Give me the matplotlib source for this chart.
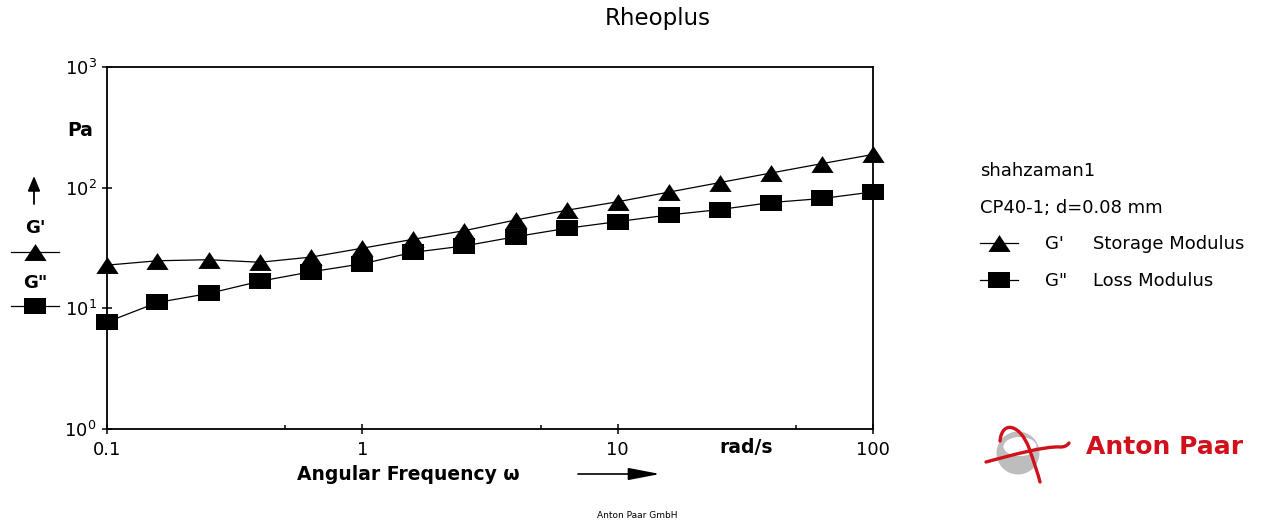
import matplotlib
matplotlib.use('Agg')
import matplotlib.pyplot as plt
from matplotlib.lines import Line2D
from matplotlib.patches import Ellipse, PathPatch
from matplotlib.path import Path
from matplotlib.ticker import FixedLocator, NullFormatter, NullLocator

# ---------------- data ----------------
omega = [0.1, 0.158, 0.251, 0.398, 0.631, 1.0, 1.58, 2.51, 3.98, 6.31,
         10.0, 15.8, 25.1, 39.8, 63.1, 100.0]
g_storage = [22.8, 24.8, 25.3, 24.1, 26.6, 31.5, 37.3, 44.0, 53.9, 64.9,
             76.3, 91.6, 110.0, 132.0, 158.0, 188.0]
g_loss = [7.7, 11.2, 13.3, 16.8, 20.1, 23.4, 29.1, 32.9, 39.2, 46.0,
          52.3, 59.3, 65.8, 75.2, 81.2, 92.1]

x_ticks = [0.1, 1, 10, 100]
x_tick_labels = ['0.1', '1', '10', '100']
x_minor_ticks = [0.5, 5, 50]
y_ticks = [1, 10, 100, 1000]
y_tick_labels = [r'$\mathregular{10^{0}}$', r'$\mathregular{10^{1}}$',
                 r'$\mathregular{10^{2}}$', r'$\mathregular{10^{3}}$']

title = 'Rheoplus'
sample_name = 'shahzaman1'
geometry = 'CP40-1; d=0.08 mm'
series_symbols = ["G'", 'G"']
series_names = ['Storage Modulus', 'Loss Modulus']

# ---------------- style ----------------
W, H = 1265, 523
plt.rcParams['font.family'] = ['DejaVu Sans']
plt.rcParams['mathtext.fontset'] = 'dejavusans'

RED = '#d0101a'
TRI = [(0, 0.76), (-1, -0.76), (1, -0.76), (0, 0.76)]
SQ = [(-1, -0.76), (1, -0.76), (1, 0.76), (-1, 0.76), (-1, -0.76)]
MS = 16


def fx(x):
    return x / W


def fy(y):
    return 1 - y / H


def ftext(x, y, s, **kw):
    fig.text(fx(x), fy(y), s, **kw)


fig = plt.figure(figsize=(W / 100, H / 100), dpi=100)
ax = fig.add_axes([fx(106.7), fy(429.3), (873.3 - 106.7) / W, (429.3 - 66.7) / H])
ax.set_xscale('log')
ax.set_yscale('log')
ax.set_xlim(0.1, 100)
ax.set_ylim(1, 1000)

ax.plot(omega, g_storage, color='black', lw=0.9, marker=TRI, ms=MS, mew=0,
        clip_on=False, zorder=3)
ax.plot(omega, g_loss, color='black', lw=0.9, marker=SQ, ms=MS, mew=0,
        clip_on=False, zorder=4)

ax.xaxis.set_major_locator(FixedLocator(x_ticks))
ax.set_xticklabels(x_tick_labels)
ax.xaxis.set_minor_locator(FixedLocator(x_minor_ticks))
ax.xaxis.set_minor_formatter(NullFormatter())
ax.yaxis.set_major_locator(FixedLocator(y_ticks))
ax.set_yticklabels(y_tick_labels)
ax.yaxis.set_minor_locator(NullLocator())

ax.tick_params(axis='both', which='major', direction='inout', length=7.5,
               width=1.1, labelsize=13, top=False, right=False, color='black')
ax.tick_params(axis='x', which='major', pad=4.5)
ax.tick_params(axis='y', which='major', pad=3.5)
ax.tick_params(axis='x', which='minor', direction='in', length=3, width=1.1,
               top=False)
for sp in ax.spines.values():
    sp.set_linewidth(1.3)

# ---------------- texts ----------------
ftext(658, 25, title, ha='center', va='baseline', fontsize=16.5)
ftext(746, 453, 'rad/s', ha='center', va='baseline', fontsize=13.5,
      fontweight='bold')
ftext(297, 480, 'Angular Frequency ω', ha='left', va='baseline',
      fontsize=13.5, fontweight='bold')
ftext(637, 518, 'Anton Paar GmbH', ha='center', va='baseline', fontsize=6.5)

# bottom arrow
ax.annotate('', xy=(660, H - 474), xytext=(578, H - 474),
            xycoords='figure pixels', textcoords='figure pixels',
            arrowprops=dict(arrowstyle='-|>,head_length=1.3,head_width=0.25',
                            mutation_scale=15, color='black', lw=1.2,
                            shrinkA=0, shrinkB=0))

# left y-axis annotations
ftext(80, 136, 'Pa', ha='center', va='baseline', fontsize=13.5,
      fontweight='bold')
ax.annotate('', xy=(34, H - 176), xytext=(34, H - 204),
            xycoords='figure pixels', textcoords='figure pixels',
            arrowprops=dict(arrowstyle='-|>,head_length=0.6,head_width=0.25',
                            mutation_scale=15, color='black', lw=1.3,
                            shrinkA=0, shrinkB=0))
ftext(35, 233, series_symbols[0], ha='center', va='baseline', fontsize=13,
      fontweight='bold')
ftext(35, 288, series_symbols[1], ha='center', va='baseline', fontsize=13,
      fontweight='bold')
for yy, mk in [(252, TRI), (306, SQ)]:
    fig.add_artist(Line2D([fx(11), fx(59)], [fy(yy), fy(yy)], color='black',
                          lw=0.9))
    fig.add_artist(Line2D([fx(35)], [fy(yy)], marker=mk, ms=MS, mew=0,
                          color='black', linestyle='none'))

# right legend block
ftext(980, 176, sample_name, ha='left', va='baseline', fontsize=13)
ftext(980, 213, geometry, ha='left', va='baseline', fontsize=13)
for yy, mk, sym, name in [(243, TRI, series_symbols[0], series_names[0]),
                          (280, SQ, series_symbols[1], series_names[1])]:
    fig.add_artist(Line2D([fx(980), fx(1018)], [fy(yy), fy(yy)],
                          color='black', lw=0.9))
    fig.add_artist(Line2D([fx(999)], [fy(yy)], marker=mk, ms=MS, mew=0,
                          color='black', linestyle='none'))
    ftext(1045, yy + 6, sym, ha='left', va='baseline', fontsize=13)
    ftext(1093, yy + 6, name, ha='left', va='baseline', fontsize=13)

# ---------------- logo ----------------
fig.add_artist(Ellipse((fx(1018), fy(453)), 43 / W, 43 / H,
                       facecolor='#bdbdbd', edgecolor='none',
                       transform=fig.transFigure))
fig.add_artist(Ellipse((fx(1020), fy(446.5)), 33 / W, 19 / H,
                       facecolor='white', edgecolor='none',
                       transform=fig.transFigure))


def logo_path(pts, codes):
    verts = [(fx(a), fy(b)) for a, b in pts]
    return PathPatch(Path(verts, codes), facecolor='none', edgecolor=RED,
                     lw=2.4, capstyle='round', transform=fig.transFigure)


C4 = Path.CURVE4
fig.add_artist(logo_path(
    [(1000, 441), (1002, 420), (1020, 424), (1029, 448),
     (1034, 462), (1038, 474), (1040, 482)],
    [Path.MOVETO, C4, C4, C4, C4, C4, C4]))
fig.add_artist(logo_path(
    [(986, 462), (1012, 455), (1045, 446), (1060, 447),
     (1064, 447), (1067, 446), (1069, 443)],
    [Path.MOVETO, C4, C4, C4, C4, C4, C4]))
ftext(1086, 454, 'Anton Paar', ha='left', va='baseline', fontsize=18,
      fontweight='bold', color=RED)

fig.savefig('out.png', dpi=100)
